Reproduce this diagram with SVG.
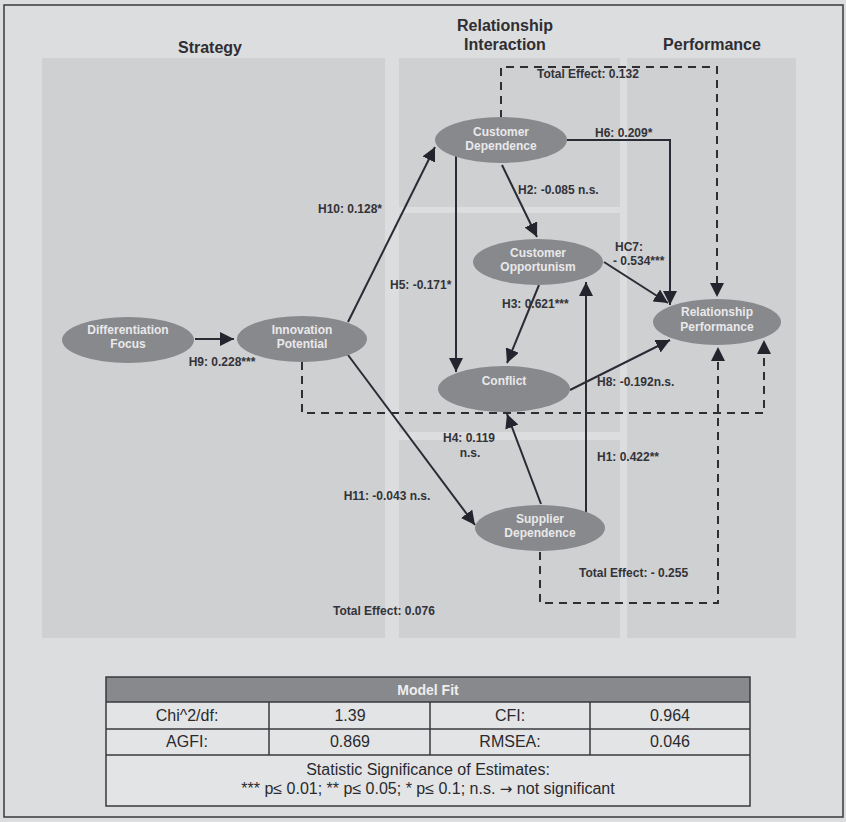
<svg xmlns="http://www.w3.org/2000/svg" width="846" height="822" viewBox="0 0 846 822">
<defs>
<style>
.hdr{font-family:"Liberation Sans",Arial,sans-serif;font-size:16px;font-weight:bold;fill:#2e2e33;text-anchor:middle}
.lbl{font-family:"Liberation Sans",Arial,sans-serif;font-size:12px;font-weight:bold;fill:#333338}
.node ellipse{fill:#88898c}
.node text{font-family:"Liberation Sans",Arial,sans-serif;font-size:12px;font-weight:bold;fill:#e8e8ea;text-anchor:middle}
.edge{fill:none;stroke:#2b2b36;stroke-width:2;marker-end:url(#arr)}
.dash{fill:none;stroke:#2e2e33;stroke-width:2;stroke-dasharray:8,6}
.panel{fill:#cfd0d2}
.cell{font-family:"Liberation Sans",Arial,sans-serif;font-size:16px;fill:#2a2a2e;text-anchor:middle}
.grid{stroke:#3a3a3e;stroke-width:1.5;fill:none}
</style>
<marker id="arr" viewBox="0 0 12 12" refX="12" refY="6" markerWidth="14" markerHeight="14" markerUnits="userSpaceOnUse" orient="auto">
<path d="M0,0 L12,6 L0,12 z" fill="#24242e"/>
</marker>
</defs>
<rect x="0" y="0" width="846" height="822" fill="#dcdddf"/>
<rect x="4" y="5" width="839" height="812" fill="none" stroke="#3a3a3e" stroke-width="1.5"/>
<g id="panels">
<rect class="panel" x="42" y="58" width="343" height="580"/>
<rect class="panel" x="399" y="58" width="221" height="149"/>
<rect class="panel" x="399" y="213" width="221" height="219"/>
<rect class="panel" x="399" y="440" width="221" height="198"/>
<rect class="panel" x="627" y="58" width="169" height="580"/>
</g>
<g id="headers">
<text class="hdr" x="210" y="53">Strategy</text>
<text class="hdr" x="505" y="31">Relationship</text>
<text class="hdr" x="505" y="50">Interaction</text>
<text class="hdr" x="712" y="50">Performance</text>
</g>
<g id="connectors">
<polyline class="dash" points="501,118 501,67 717,67 717,286"/>
<polyline class="dash" points="302,362 302,413 764,413 764,350"/>
<polyline class="dash" points="540,552 540,603 718,603 718,357"/>
<path class="dash" d="M717,286 L717,297" stroke-dasharray="none" marker-end="url(#arr)"/>
<path class="dash" d="M764,350 L764,340" stroke-dasharray="none" marker-end="url(#arr)"/>
<path class="dash" d="M718,357 L718,347" stroke-dasharray="none" marker-end="url(#arr)"/>
<line class="edge" x1="195" y1="339" x2="234" y2="339"/>
<line class="edge" x1="348" y1="322" x2="435" y2="147"/>
<line class="edge" x1="348" y1="355" x2="475" y2="525"/>
<line class="edge" x1="502" y1="165" x2="537" y2="237"/>
<line class="edge" x1="539" y1="285" x2="507" y2="363"/>
<line class="edge" x1="456" y1="150" x2="456" y2="372"/>
<polyline class="edge" points="567,140 670,140 670,305"/>
<line class="edge" x1="604" y1="262" x2="668" y2="303"/>
<line class="edge" x1="570" y1="390" x2="670" y2="340"/>
<line class="edge" x1="586" y1="513" x2="586" y2="282"/>
<line class="edge" x1="541" y1="504" x2="507" y2="414"/>
</g>
<g id="n-differentiation" class="node">
<ellipse cx="128" cy="340" rx="66" ry="23"/>
<text x="128" y="334">Differentiation</text>
<text x="128" y="348">Focus</text>
</g>
<g id="n-innovation" class="node">
<ellipse cx="302" cy="339" rx="65" ry="23"/>
<text x="302" y="334">Innovation</text>
<text x="302" y="348">Potential</text>
</g>
<g id="n-custdep" class="node">
<ellipse cx="501" cy="140" rx="66" ry="23"/>
<text x="501" y="136">Customer</text>
<text x="501" y="150">Dependence</text>
</g>
<g id="n-custopp" class="node">
<ellipse cx="538" cy="262" rx="65" ry="23"/>
<text x="538" y="257">Customer</text>
<text x="538" y="271">Opportunism</text>
</g>
<g id="n-conflict" class="node">
<ellipse cx="504" cy="389" rx="66" ry="23"/>
<text x="504" y="385">Conflict</text>
</g>
<g id="n-suppdep" class="node">
<ellipse cx="540" cy="528" rx="65" ry="23"/>
<text x="540" y="523">Supplier</text>
<text x="540" y="537">Dependence</text>
</g>
<g id="n-relperf" class="node">
<ellipse cx="717" cy="322" rx="64" ry="23"/>
<text x="717" y="316">Relationship</text>
<text x="717" y="331">Performance</text>
</g>
<g id="labels">
<text class="lbl" x="222" y="366" text-anchor="middle">H9: 0.228***</text>
<text class="lbl" x="350" y="213" text-anchor="middle">H10: 0.128*</text>
<text class="lbl" x="387" y="500" text-anchor="middle">H11: -0.043 n.s.</text>
<text class="lbl" x="518" y="194">H2: -0.085 n.s.</text>
<text class="lbl" x="502" y="308">H3: 0.621***</text>
<text class="lbl" x="390" y="289">H5: -0.171*</text>
<text class="lbl" x="595" y="137">H6: 0.209*</text>
<text class="lbl" x="615" y="251">HC7:</text>
<text class="lbl" x="613" y="265">- 0.534***</text>
<text class="lbl" x="597" y="386">H8: -0.192n.s.</text>
<text class="lbl" x="597" y="461">H1: 0.422**</text>
<text class="lbl" x="443" y="442">H4: 0.119</text>
<text class="lbl" x="470" y="457" text-anchor="middle">n.s.</text>
<text class="lbl" x="537" y="78">Total Effect: 0.132</text>
<text class="lbl" x="579" y="577">Total Effect: - 0.255</text>
<text class="lbl" x="333" y="615">Total Effect: 0.076</text>
</g>
<g id="model-fit">
<rect x="106" y="677" width="644" height="129" fill="#e3e4e6"/>
<rect x="106" y="677" width="644" height="25" fill="#88898c"/>
<text x="428" y="695" font-family="'Liberation Sans',Arial,sans-serif" font-size="14" font-weight="bold" fill="#eeeeef" text-anchor="middle">Model Fit</text>
<rect class="grid" x="106" y="677" width="644" height="129"/>
<line class="grid" x1="106" y1="702" x2="750" y2="702"/>
<line class="grid" x1="106" y1="729" x2="750" y2="729"/>
<line class="grid" x1="106" y1="755" x2="750" y2="755"/>
<line class="grid" x1="269" y1="702" x2="269" y2="755"/>
<line class="grid" x1="430" y1="702" x2="430" y2="755"/>
<line class="grid" x1="590" y1="702" x2="590" y2="755"/>
<text class="cell" x="187" y="721">Chi^2/df:</text>
<text class="cell" x="350" y="721">1.39</text>
<text class="cell" x="510" y="721">CFI:</text>
<text class="cell" x="670" y="721">0.964</text>
<text class="cell" x="187" y="747">AGFI:</text>
<text class="cell" x="350" y="747">0.869</text>
<text class="cell" x="510" y="747">RMSEA:</text>
<text class="cell" x="670" y="747">0.046</text>
<text class="cell" x="428" y="775">Statistic Significance of Estimates:</text>
<text class="cell" x="428" y="794">*** p≤ 0.01; ** p≤ 0.05; * p≤ 0.1; n.s. <tspan font-family="'DejaVu Sans',sans-serif" font-size="15">→</tspan> not significant</text>
</g>
</svg>
